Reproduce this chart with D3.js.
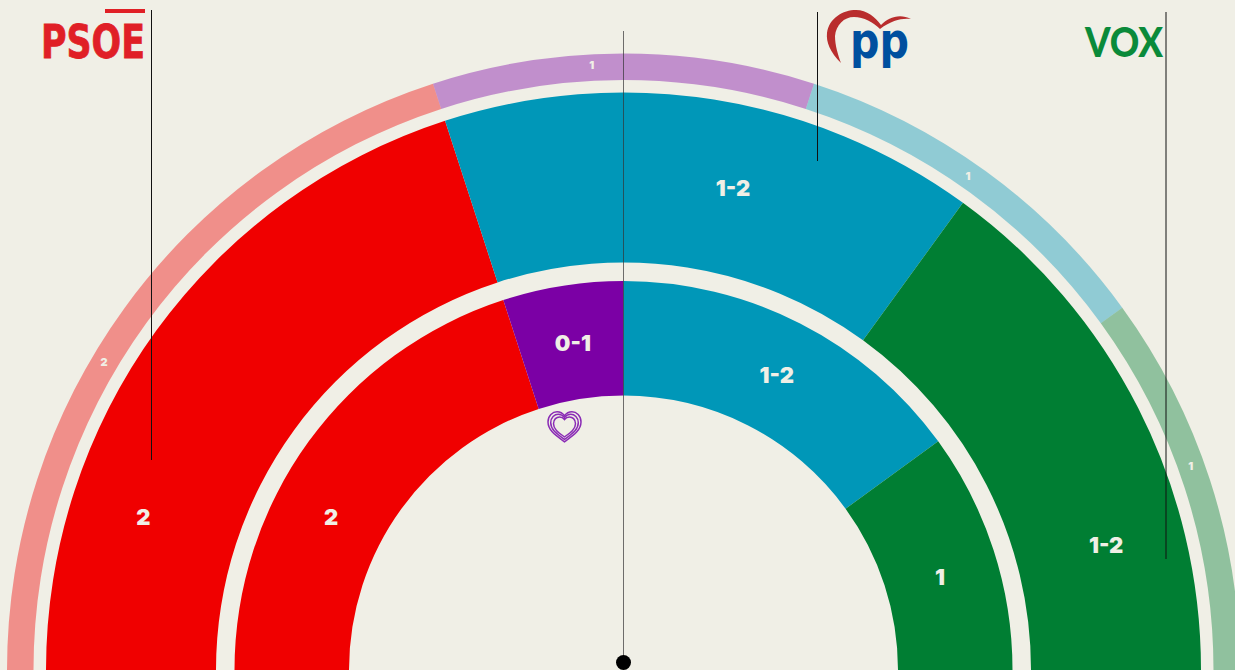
<!DOCTYPE html>
<html>
<head>
<meta charset="utf-8">
<script src="https://d3js.org/d3.v7.min.js"></script>
<style>
html, body { margin: 0; padding: 0; background: #f0efe6; overflow: hidden; }
svg { display: block; }
.lab { font-family: Inter, "Noto Sans", sans-serif; font-weight: 900; fill: #f0efe6; text-anchor: middle; }
</style>
</head>
<body>
<svg></svg>
<script>
// svg measurements
var width = 1235,
	height = 670,
	cx = 623.5,
	cy = 670;

// data: seats per party, ring by ring (ranges like 1-2 count as 1.5)
var outerParties = ['PSOE', 'Sumar', 'PP', 'VOX'];
var outerSeats = [2, 1, 1, 1];
var outerLabels = ['2', '1', '1', '1'];

var middleParties = ['PSOE', 'PP', 'VOX'];
var middleSeats = [2, 1.5, 1.5];
var middleLabels = ['2', '1-2', '1-2'];

var innerParties = ['PSOE', 'Sumar', 'PP', 'VOX'];
var innerSeats = [2, 0.5, 1.5, 1];
var innerLabels = ['2', '0-1', '1-2', '1'];

// label placement [degrees from the top, radius], not always mid slice
var outerLabelPos = [[-59.3, 604], [-3, 606], [34.9, 602], [70.2, 603]];
var middleLabelPos = [[-72.3, 504], [12.8, 494], [75.5, 498.5]];
var innerLabelPos = [[-62.4, 330], [-8.8, 331], [27.5, 332], [73.6, 330]];

var color = d3.scaleOrdinal()
	.domain(['PSOE', 'Sumar', 'PP', 'VOX'])
	.range(['#f00000', '#7b00a5', '#0097b8', '#007e33']);

var pie = d3.pie()
	.sort(null)
	.startAngle(-Math.PI / 2)
	.endAngle(Math.PI / 2);

var svg = d3.select('svg')
	.attr('width', width)
	.attr('height', height);

svg.append('rect')
	.attr('width', width)
	.attr('height', height)
	.attr('fill', '#f0efe6');

var chart = svg.append('g')
	.attr('transform', 'translate(' + cx + ',' + cy + ')');

function drawRing(parties, seats, labels, pos, r0, r1, fontSize, opacity) {
	var arc = d3.arc().innerRadius(r0).outerRadius(r1);
	var g = chart.append('g');

	g.selectAll('path')
		.data(pie(seats))
		.enter()
		.append('path')
			.attr('d', arc)
			.attr('fill', (d, i) => color(parties[i]))
			.attr('fill-opacity', opacity);

	g.selectAll('text')
		.data(labels)
		.enter()
		.append('text')
			.attr('class', 'lab')
			.attr('transform', (d, i) => {
				var p = d3.pointRadial(pos[i][0] * Math.PI / 180, pos[i][1]);
				return 'translate(' + p[0] + ',' + p[1] + ')';
			})
			.attr('dy', '0.36em')
			.style('font-size', fontSize + 'px')
			.text(d => d);
}

drawRing(outerParties, outerSeats, outerLabels, outerLabelPos, 590, 616.5, 11, 0.4);
drawRing(middleParties, middleSeats, middleLabels, middleLabelPos, 407.5, 577.5, 22, 1);
drawRing(innerParties, innerSeats, innerLabels, innerLabelPos, 274.5, 389, 22, 1);

// heart under the purple slice
var heart = 'M0,0.9 C-0.55,0.5 -1,0.2 -1,-0.3 C-1,-0.7 -0.72,-0.92 -0.45,-0.92 C-0.25,-0.92 -0.1,-0.82 0,-0.68 C0.1,-0.82 0.25,-0.92 0.45,-0.92 C0.72,-0.92 1,-0.7 1,-0.3 C1,0.2 0.55,0.5 0,0.9Z';
svg.append('g')
	.attr('transform', 'translate(564.5,427)')
	.selectAll('path')
	.data([16.5, 13.8, 11])
	.enter()
	.append('path')
		.attr('d', heart)
		.attr('transform', d => 'scale(' + d + ')')
		.attr('fill', 'none')
		.attr('stroke', '#8a2bb5')
		.attr('stroke-width', 1.5)
		.attr('vector-effect', 'non-scaling-stroke');

// leader lines
var leaders = [
	{x: 151.5, y1: 10, y2: 460},
	{x: 817.5, y1: 12, y2: 161},
	{x: 1166, y1: 12, y2: 559}
];
svg.selectAll('line.leader')
	.data(leaders)
	.enter()
	.append('line')
		.attr('class', 'leader')
		.attr('x1', d => d.x)
		.attr('x2', d => d.x)
		.attr('y1', d => d.y1)
		.attr('y2', d => d.y2)
		.attr('stroke', '#111')
		.attr('stroke-width', 1);

// centre needle
svg.append('line')
	.attr('x1', cx)
	.attr('x2', cx)
	.attr('y1', 31)
	.attr('y2', 662)
	.attr('stroke', '#333')
	.attr('stroke-width', 0.7);

svg.append('circle')
	.attr('cx', cx)
	.attr('cy', 662.5)
	.attr('r', 7.5)
	.attr('fill', '#000');

// party logos
svg.append('text')
	.attr('x', 41)
	.attr('y', 57.5)
	.attr('textLength', 104)
	.attr('lengthAdjust', 'spacingAndGlyphs')
	.style('font-family', '"DejaVu Sans Condensed", "DejaVu Sans", sans-serif')
	.style('font-weight', 700)
	.style('font-size', '47px')
	.style('fill', '#e01f26')
	.style('stroke', '#e01f26')
	.style('stroke-width', 0.8)
	.text('PSOE');

svg.append('rect')
	.attr('x', 105)
	.attr('y', 9)
	.attr('width', 40)
	.attr('height', 4)
	.attr('fill', '#e01f26');

svg.append('path')
	.attr('d', 'M841,63 C830,52 826,42 827,33 C829,18 843,10 856,10 C867,10 875,17 881,25 C888,18 899,13 911,19 C902,18 892,20 880,29 C873,22 864,17 854,17 C844,17 836,25 835,36 C835,45 838,55 841,63Z')
	.attr('fill', '#b92d2d');

svg.append('text')
	.attr('x', 850)
	.attr('y', 57.5)
	.attr('textLength', 59)
	.attr('lengthAdjust', 'spacingAndGlyphs')
	.style('font-family', '"DejaVu Sans", sans-serif')
	.style('font-weight', 700)
	.style('font-size', '49px')
	.style('fill', '#004f9f')
	.text('pp');

svg.append('text')
	.attr('x', 1085)
	.attr('y', 56.5)
	.attr('textLength', 78)
	.attr('lengthAdjust', 'spacingAndGlyphs')
	.style('font-family', 'Lato, "Noto Sans", sans-serif')
	.style('font-weight', 900)
	.style('font-size', '41px')
	.style('fill', '#0a8a3a')
	.text('VOX');
</script>
</body>
</html>
